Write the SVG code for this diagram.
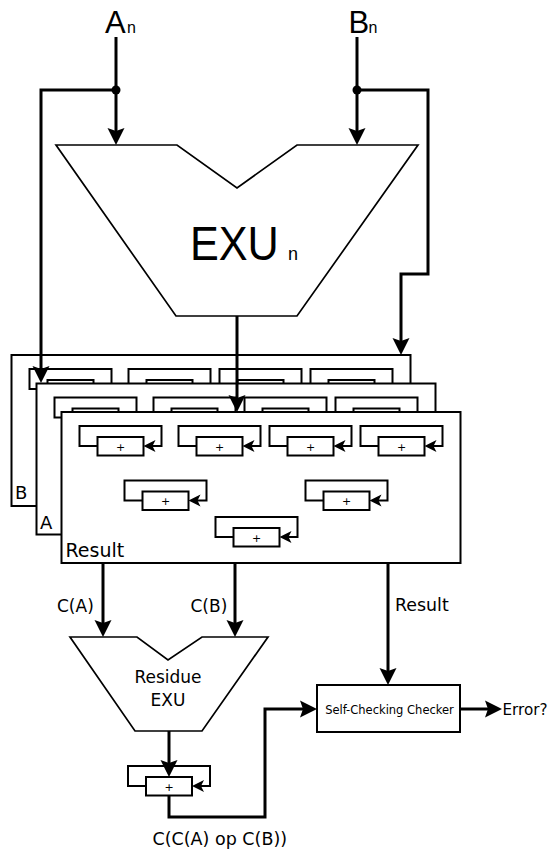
<svg xmlns="http://www.w3.org/2000/svg" width="548" height="852" viewBox="0 0 548 852">
<style>
.thin{fill:none;stroke:#000;stroke-width:2}
.box{fill:#fff;stroke:#000;stroke-width:2}
.trap{fill:#fff;stroke:#000;stroke-width:1.7;stroke-linejoin:miter}
.wire{fill:none;stroke:#000;stroke-width:3;stroke-linejoin:miter}
.arial{font-family:"Liberation Sans",Arial,sans-serif;fill:#000}
.dv{font-family:"DejaVu Sans","Liberation Sans",sans-serif;fill:#000}
</style>
<defs>
<marker id="ah" markerUnits="userSpaceOnUse" viewBox="0 -9 18 18" markerWidth="18" markerHeight="18" refX="7" refY="0" orient="auto">
<path d="M0,-8.5 L17,0 L0,8.5 L3,0 Z" fill="#000"/>
</marker>
<marker id="sah" markerUnits="userSpaceOnUse" viewBox="0 -7 13 14" markerWidth="13" markerHeight="14" refX="4" refY="0" orient="auto">
<path d="M0,-6 L12,0 L0,6 L3,0 Z" fill="#000"/>
</marker>
<g id="reg">
<path class="thin" d="M0,9 H-18 V-11 H64 V9 H54" marker-end="url(#sah)"/>
<rect class="box" x="0" y="0" width="46" height="18.5"/>
<text class="dv" x="23" y="13.5" font-size="11" text-anchor="middle">+</text>
</g>
<g id="layer">
<rect class="box" x="0" y="0" width="399" height="151"/>
<use href="#reg" x="36" y="25"/>
<use href="#reg" x="135" y="25"/>
<use href="#reg" x="226" y="25"/>
<use href="#reg" x="317" y="25"/>
<use href="#reg" x="81" y="79.5"/>
<use href="#reg" x="262" y="79.5"/>
<use href="#reg" x="172" y="116"/>
</g>
</defs>
<rect x="0" y="0" width="548" height="852" fill="#fff"/>

<g id="inputA">
<text class="arial" x="105" y="33" font-size="31">A</text>
<text class="arial" x="127" y="33" font-size="16">n</text>
</g>
<g id="inputB">
<text class="arial" x="348.5" y="33" font-size="31">B</text>
<text class="arial" x="368.5" y="33" font-size="16">n</text>
</g>

<g id="exu">
<path class="trap" d="M56,145 L177,145 L237,188 L297,145 L418,145 L297,316 L176,316 Z"/>
<text class="arial" transform="translate(190,260) scale(0.9,1)" x="0" y="0" font-size="48">EXU</text>
<text class="arial" x="288" y="260" font-size="18">n</text>
</g>

<g id="layerB" transform="translate(11.5,355)">
<use href="#layer"/>
<text class="dv" x="3.5" y="144" font-size="18">B</text>
</g>
<g id="layerA" transform="translate(36.5,383.5)">
<use href="#layer"/>
<text class="dv" x="3.5" y="145" font-size="18">A</text>
</g>
<g id="layerResult" transform="translate(61.5,412)">
<use href="#layer"/>
<text class="dv" x="4" y="145" font-size="19">Result</text>
</g>

<g id="residueExu">
<path class="trap" d="M70,637 L137,637 L168,660 L202,637 L268,637 L202,731 L135,731 Z"/>
<text class="dv" x="168" y="682.5" font-size="17" text-anchor="middle">Residue</text>
<text class="dv" x="168" y="705.5" font-size="17" text-anchor="middle">EXU</text>
</g>

<g id="residueAdder">
<use href="#reg" x="146" y="777"/>
</g>

<g id="checker">
<rect class="box" x="317" y="685" width="143" height="47"/>
<text class="dv" x="389.5" y="713.5" font-size="11.5" text-anchor="middle">Self-Checking Checker</text>
</g>

<g id="connectors">
<path class="wire" d="M116,37 V135" marker-end="url(#ah)"/>
<path class="wire" d="M116,90 H41 V373" marker-end="url(#ah)"/>
<path class="wire" d="M357,37 V135" marker-end="url(#ah)"/>
<path class="wire" d="M357,90 H428 V274 H401 V345" marker-end="url(#ah)"/>
<circle cx="116" cy="90" r="4.5" fill="#000"/>
<circle cx="357" cy="90" r="4.5" fill="#000"/>
<path class="wire" d="M237,316 V402" marker-end="url(#ah)"/>
<path class="wire" d="M103,563 V627" marker-end="url(#ah)"/>
<path class="wire" d="M235,563 V627" marker-end="url(#ah)"/>
<path class="wire" d="M388,563 V675" marker-end="url(#ah)"/>
<path class="wire" d="M169,731 V767" marker-end="url(#ah)"/>
<path class="wire" d="M169,795 V817 H265 V709 H307" marker-end="url(#ah)"/>
<path class="wire" d="M460,709 H492" marker-end="url(#ah)"/>
<text class="dv" x="57" y="611.5" font-size="17">C(A)</text>
<text class="dv" x="190.5" y="611.5" font-size="17">C(B)</text>
<text class="dv" x="395" y="610.5" font-size="17.4">Result</text>
<text class="dv" x="152.5" y="845" font-size="17.5">C(C(A) op C(B))</text>
<text class="dv" x="502.5" y="715" font-size="15.2">Error?</text>
</g>
</svg>
